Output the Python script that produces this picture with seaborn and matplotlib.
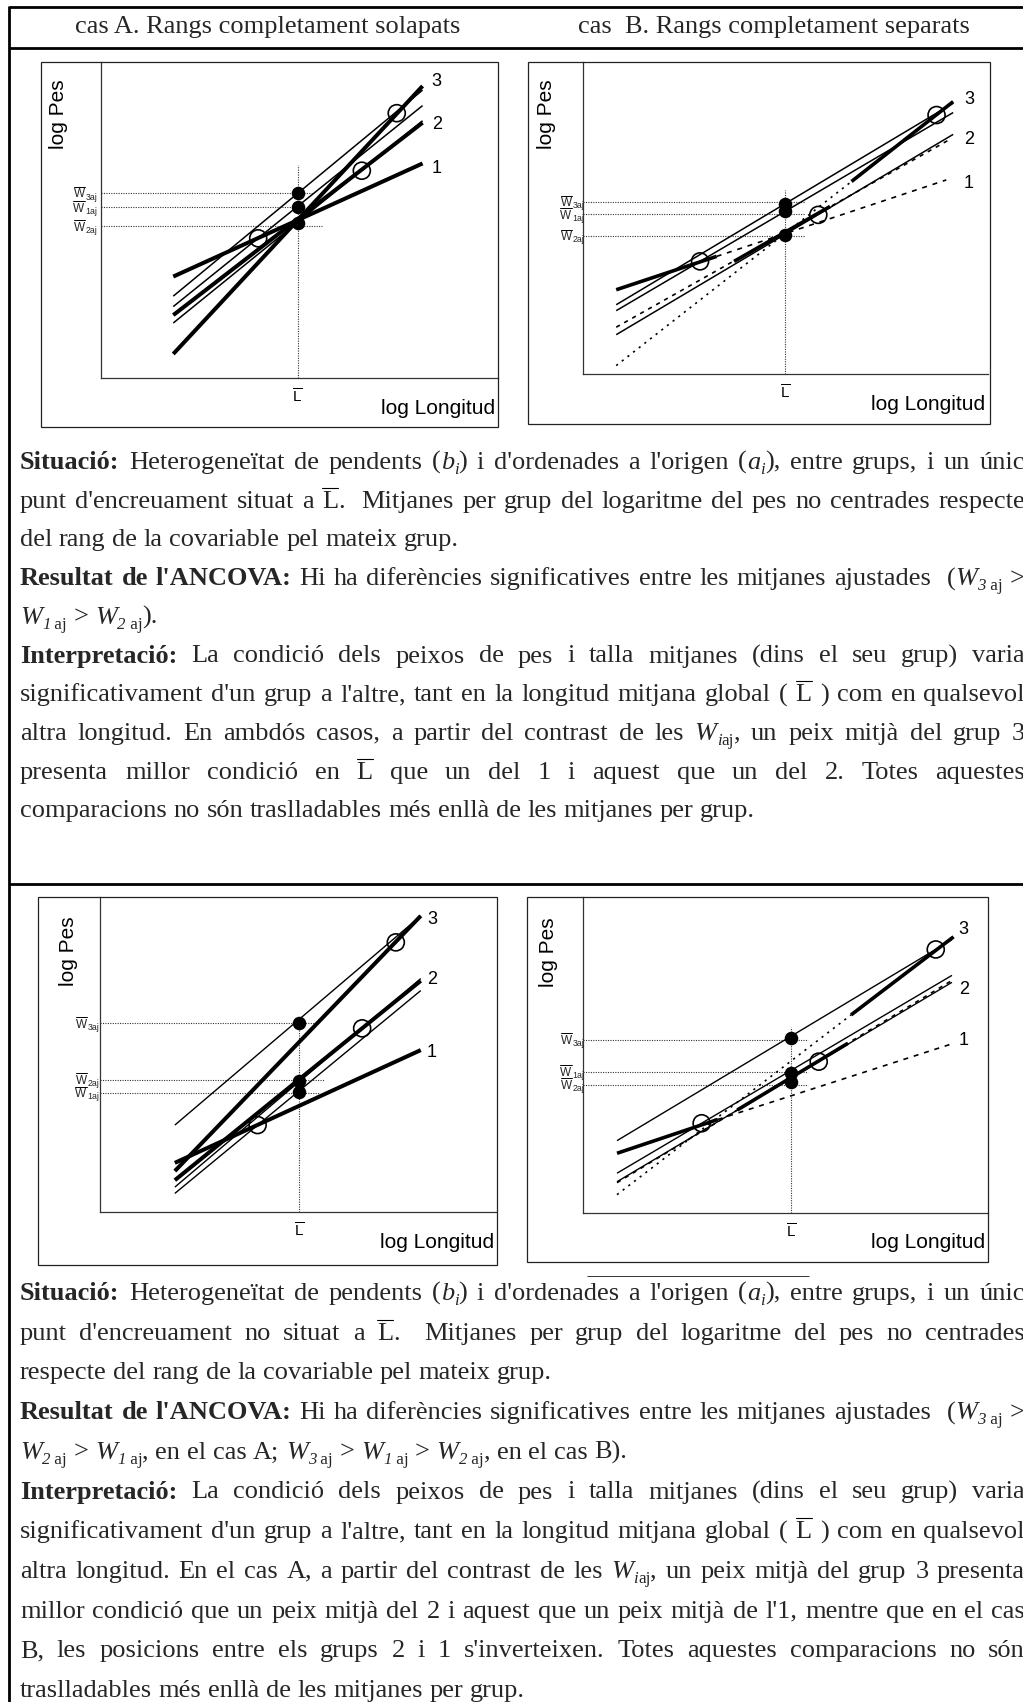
import matplotlib
matplotlib.use('Agg')
import matplotlib.pyplot as plt
import matplotlib.transforms as mtransforms
from matplotlib.lines import Line2D
from matplotlib.patches import Rectangle
import seaborn as sns
import pandas as pd

# ======================= DATA (x = log Longitud, y = log Pes, arbitrary units 0-100) =======================
# --- Panel I-A : rangs solapats, encreuament a L
p1a_L = 49.5
p1a_L_top = 67.4
p1a_fit_x0 = [18.2, 18.2, 18.2]
p1a_fit_x1 = [81.0, 81.0, 81.0]
p1a_fit_y0 = [32.1, 19.9, 7.6]
p1a_fit_y1 = [67.9, 80.8, 92.4]
p1a_com_x0 = [18.2, 18.2, 18.2]
p1a_com_x1 = [81.0, 81.0, 81.0]
p1a_com_y0 = [22.6, 17.4, 25.9]
p1a_com_y1 = [86.2, 81.4, 91.1]
p1a_ext_x0, p1a_ext_x1, p1a_ext_y0, p1a_ext_y1 = [], [], [], []
p1a_mean_x = [39.6, 65.7, 74.5]
p1a_mean_y = [44.2, 65.6, 83.8]
p1a_adj = [54.2, 49.0, 58.4]
p1a_adj_line = [54.0, 48.0, 58.5]
p1a_adj_end = [50.5, 55.6, 53.1]
p1a_num_x = [84.5, 84.7, 84.5]
p1a_num_y = [66.4, 80.1, 93.8]

# --- Panel I-B : rangs separats, encreuament a L
p1b_L = 49.9
p1b_L_top = 59.0
p1b_fit_x0 = [8.2, 37.3, 66.3]
p1b_fit_x1 = [33.0, 61.0, 91.4]
p1b_fit_y0 = [27.0, 36.1, 61.7]
p1b_fit_y1 = [37.7, 53.7, 87.3]
p1b_com_x0 = [8.2, 8.2, 8.2]
p1b_com_x1 = [91.4, 91.4, 91.4]
p1b_com_y0 = [20.3, 12.6, 22.2]
p1b_com_y1 = [83.8, 76.8, 86.8]
p1b_ext_x0 = [33.0, 8.2, 8.2]
p1b_ext_x1 = [89.7, 91.0, 66.3]
p1b_ext_y0 = [37.7, 15.0, 2.7]
p1b_ext_y1 = [62.2, 75.5, 61.7]
p1b_mean_x = [28.9, 58.1, 87.3]
p1b_mean_y = [36.1, 51.0, 83.0]
p1b_adj = [52.1, 44.6, 54.4]
p1b_adj_line = [51.2, 44.3, 55.2]
p1b_adj_end = [54.8, 54.8, 54.8]
p1b_num_x = [95.3, 95.4, 95.3]
p1b_num_y = [61.2, 75.2, 88.1]

# --- Panel II-A : rangs solapats, encreuament no situat a L
p2a_L = 50.2
p2a_L_top = 60.5
p2a_fit_x0 = [18.9, 18.9, 18.9]
p2a_fit_x1 = [81.0, 81.0, 81.0]
p2a_fit_y0 = [15.6, 10.1, 13.0]
p2a_fit_y1 = [51.4, 73.4, 94.0]
p2a_com_x0 = [18.9, 18.9, 18.9]
p2a_com_x1 = [81.0, 81.0, 81.0]
p2a_com_y0 = [5.9, 7.9, 27.6]
p2a_com_y1 = [70.3, 74.1, 94.0]
p2a_ext_x0, p2a_ext_x1, p2a_ext_y0, p2a_ext_y1 = [], [], [], []
p2a_mean_x = [39.8, 66.2, 74.7]
p2a_mean_y = [27.6, 58.3, 85.6]
p2a_adj = [38.0, 41.7, 59.9]
p2a_adj_line = [37.8, 42.0, 59.9]
p2a_adj_end = [55.5, 56.6, 55.5]
p2a_num_x = [83.8, 83.8, 83.8]
p2a_num_y = [50.6, 73.9, 92.9]

# --- Panel II-B : rangs separats, encreuament no situat a L
p2b_L = 51.3
p2b_L_top = 59.0
p2b_fit_x0 = [8.4, 38.1, 66.2]
p2b_fit_x1 = [33.3, 65.4, 91.5]
p2b_fit_y0 = [18.9, 32.6, 62.7]
p2b_fit_y1 = [29.6, 53.7, 87.4]
p2b_com_x0 = [8.4, 8.4, 8.4]
p2b_com_x1 = [91.1, 91.1, 91.1]
p2b_com_y0 = [12.6, 9.9, 22.9]
p2b_com_y1 = [75.2, 73.0, 86.5]
p2b_ext_x0 = [33.3, 8.4, 8.4]
p2b_ext_x1 = [91.5, 91.1, 66.2]
p2b_ext_y0 = [29.6, 9.6, 5.8]
p2b_ext_y1 = [53.7, 73.6, 62.7]
p2b_mean_x = [29.3, 58.2, 87.1]
p2b_mean_y = [28.4, 47.9, 83.4]
p2b_adj = [44.4, 41.6, 55.3]
p2b_adj_line = [44.7, 40.6, 54.9]
p2b_adj_end = [55.5, 55.5, 55.5]
p2b_num_x = [94.0, 94.0, 94.0]
p2b_num_y = [54.7, 70.8, 89.8]

group_names = ['1', '2', '3']
adj_subs = ['1aj', '2aj', '3aj']
header_a = 'cas A. Rangs completament solapats'
header_b = 'cas  B. Rangs completament separats'
xlabel_text = 'log Longitud'
ylabel_text = 'log Pes'

# ======================= FIGURE SETUP =======================
W_PX, H_PX = 1023, 1702
sns.set_theme(style='white')
plt.rcParams['font.family'] = ['Liberation Sans', 'DejaVu Sans']
plt.rcParams['mathtext.fontset'] = 'custom'
plt.rcParams['mathtext.rm'] = 'Liberation Sans'
plt.rcParams['mathtext.it'] = 'Liberation Sans:italic'
plt.rcParams['mathtext.bf'] = 'Liberation Sans:bold'

fig = plt.figure(figsize=(W_PX / 100, H_PX / 100), dpi=100)
fig.patch.set_facecolor('white')
renderer = fig.canvas.get_renderer()


def fxy(x, y):
    return x / W_PX, 1 - y / H_PX


def fig_line(x0, y0, x1, y1, lw, color='black', ls='-'):
    a = fxy(x0, y0)
    b = fxy(x1, y1)
    fig.add_artist(Line2D([a[0], b[0]], [a[1], b[1]], transform=fig.transFigure,
                          color=color, lw=lw, ls=ls, solid_capstyle='butt'))


def fig_rect(l, t, r, b, lw=0.9, color='#222222'):
    x0, y1 = fxy(l, t)
    x1, y0 = fxy(r, b)
    fig.add_artist(Rectangle((x0, y0), x1 - x0, y1 - y0, transform=fig.transFigure,
                             fill=False, lw=lw, edgecolor=color))


def text_width(s, **kw):
    t = fig.text(0, 0, s, **kw)
    w = t.get_window_extent(renderer).width
    t.remove()
    return w


# page frame
fig_line(9, 7, 1023, 7, 2.0)
fig_line(9, 6, 9, 1702, 2.0)
fig_line(9, 48, 1023, 48, 2.0)
fig_line(9, 884, 1023, 884, 2.0)
fig_line(587, 1276, 809, 1276, 0.7, color='#333333')

# ======================= PANELS =======================
panels = [
    dict(ax=(101, 62, 498, 378), box=(41, 62, 498, 427), ylab=(58, 114), xlab_r=495, wlab_x=97,
         L=p1a_L, L_top=p1a_L_top, fit=(p1a_fit_x0, p1a_fit_x1, p1a_fit_y0, p1a_fit_y1),
         com=(p1a_com_x0, p1a_com_x1, p1a_com_y0, p1a_com_y1),
         ext=(p1a_ext_x0, p1a_ext_x1, p1a_ext_y0, p1a_ext_y1),
         mean=(p1a_mean_x, p1a_mean_y), adj=p1a_adj, adj_line=p1a_adj_line, adj_end=p1a_adj_end,
         num=(p1a_num_x, p1a_num_y), thick=2.9, thin=1.1),
    dict(ax=(583, 62, 988, 374), box=(528, 62, 990, 424), ylab=(547, 114), xlab_r=985, wlab_x=584,
         L=p1b_L, L_top=p1b_L_top, fit=(p1b_fit_x0, p1b_fit_x1, p1b_fit_y0, p1b_fit_y1),
         com=(p1b_com_x0, p1b_com_x1, p1b_com_y0, p1b_com_y1),
         ext=(p1b_ext_x0, p1b_ext_x1, p1b_ext_y0, p1b_ext_y1),
         mean=(p1b_mean_x, p1b_mean_y), adj=p1b_adj, adj_line=p1b_adj_line, adj_end=p1b_adj_end,
         num=(p1b_num_x, p1b_num_y), thick=2.6, thin=1.1),
    dict(ax=(100, 897, 496, 1212), box=(38, 897, 497, 1265), ylab=(69, 951), xlab_r=494, wlab_x=99,
         L=p2a_L, L_top=p2a_L_top, fit=(p2a_fit_x0, p2a_fit_x1, p2a_fit_y0, p2a_fit_y1),
         com=(p2a_com_x0, p2a_com_x1, p2a_com_y0, p2a_com_y1),
         ext=(p2a_ext_x0, p2a_ext_x1, p2a_ext_y0, p2a_ext_y1),
         mean=(p2a_mean_x, p2a_mean_y), adj=p2a_adj, adj_line=p2a_adj_line, adj_end=p2a_adj_end,
         num=(p2a_num_x, p2a_num_y), thick=2.9, thin=1.0),
    dict(ax=(583, 897, 988, 1213), box=(527, 897, 988, 1262), ylab=(549, 952), xlab_r=985, wlab_x=584,
         L=p2b_L, L_top=p2b_L_top, fit=(p2b_fit_x0, p2b_fit_x1, p2b_fit_y0, p2b_fit_y1),
         com=(p2b_com_x0, p2b_com_x1, p2b_com_y0, p2b_com_y1),
         ext=(p2b_ext_x0, p2b_ext_x1, p2b_ext_y0, p2b_ext_y1),
         mean=(p2b_mean_x, p2b_mean_y), adj=p2b_adj, adj_line=p2b_adj_line, adj_end=p2b_adj_end,
         num=(p2b_num_x, p2b_num_y), thick=2.6, thin=1.0),
]

ext_styles = [(0, (3.0, 3.5)), (0, (2.5, 3.0)), (0, (1.3, 3.0))]
ref_style = (0, (1.0, 1.2))
W_PT = 8.5
SUB_PT = 6.3
W_EM = W_PT * 100 / 72.0
W_WIDTH = text_width('W', fontsize=W_PT, family='Liberation Sans')


def seg(ax, xs, ys, lw, ls='-', z=3, color='black'):
    df = pd.DataFrame({'x': xs, 'y': ys})
    sns.lineplot(data=df, x='x', y='y', ax=ax, color=color, lw=lw, estimator=None,
                 sort=False, legend=False)
    ln = ax.lines[-1]
    ln.set_linestyle(ls)
    ln.set_zorder(z)
    ln.set_solid_capstyle('butt')
    ln.set_dash_capstyle('butt')


for p in panels:
    l, t, r, b = p['ax']
    ax = fig.add_axes([l / W_PX, 1 - b / H_PX, (r - l) / W_PX, (b - t) / H_PX])
    ax.set_xlim(0, 100)
    ax.set_ylim(0, 100)
    ax.patch.set_alpha(0)
    for s in ['top', 'right']:
        ax.spines[s].set_visible(False)
    for s in ['left', 'bottom']:
        ax.spines[s].set_color('#333333')
        ax.spines[s].set_linewidth(0.9)
    fig_rect(*p['box'])
    hpx = b - t
    wpx = r - l

    # reference dotted lines
    L = p['L']
    seg(ax, [L, L], [0, p['L_top']], 0.8, ref_style, z=2, color='#333333')
    for yv, xe in zip(p['adj_line'], p['adj_end']):
        seg(ax, [0, xe], [yv, yv], 0.8, ref_style, z=2, color='#333333')

    # extensions (dashed) of group fits
    ex0, ex1, ey0, ey1 = p['ext']
    for i in range(len(ex0)):
        seg(ax, [ex0[i], ex1[i]], [ey0[i], ey1[i]], 1.2, ext_styles[i], z=3)
    # common-slope lines (thin)
    cx0, cx1, cy0, cy1 = p['com']
    for i in range(len(cx0)):
        seg(ax, [cx0[i], cx1[i]], [cy0[i], cy1[i]], p['thin'], '-', z=4)
    # group fits (thick)
    fx0, fx1, fy0, fy1 = p['fit']
    for i in range(len(fx0)):
        seg(ax, [fx0[i], fx1[i]], [fy0[i], fy1[i]], p['thick'], '-', z=5)

    # group means (open circles)
    mx, my = p['mean']
    sns.scatterplot(x=mx, y=my, ax=ax, s=150, marker='o', legend=False)
    coll = ax.collections[-1]
    coll.set_facecolor('none')
    coll.set_edgecolor('black')
    coll.set_linewidth(1.2)
    coll.set_zorder(7)
    # adjusted means (filled dots)
    sns.scatterplot(x=[L] * len(p['adj']), y=p['adj'], ax=ax, s=95, marker='o', legend=False)
    coll = ax.collections[-1]
    coll.set_facecolor('black')
    coll.set_edgecolor('black')
    coll.set_linewidth(0)
    coll.set_zorder(8)

    ax.set_xticks([])
    ax.set_yticks([])
    ax.set_xlabel('')
    ax.set_ylabel('')

    # group numbers
    nx, ny = p['num']
    for gname, xv, yv in zip(group_names, nx, ny):
        ax.text(xv, yv, gname, ha='center', va='center', fontsize=13, color='black')

    # adjusted-mean labels "W-bar sub" at the left of the y axis
    for sub, yv in zip(adj_subs, p['adj_line']):
        ydisp = ax.transData.transform((0, yv))[1]          # pixels from the bottom
        base = ydisp - 0.36 * W_EM
        sub_w = text_width(sub, fontsize=SUB_PT, family='Liberation Sans')
        x_sub = p['wlab_x'] - sub_w
        x_w = x_sub - W_WIDTH - 0.6
        fig.text(x_w / W_PX, base / H_PX, 'W', fontsize=W_PT, family='Liberation Sans',
                 ha='left', va='baseline')
        fig.text(x_sub / W_PX, (base - 2.2) / H_PX, sub, fontsize=SUB_PT, family='Liberation Sans',
                 ha='left', va='baseline')
        ybar = base + 0.72 * W_EM + 2.0
        fig.add_artist(Line2D([x_w / W_PX, (x_w + W_WIDTH) / W_PX], [ybar / H_PX, ybar / H_PX],
                              transform=fig.transFigure, color='black', lw=0.7))

    # L bar label
    trans_x = mtransforms.blended_transform_factory(ax.transData, ax.transAxes)
    ax.text(L, -19 / hpx, r'$\overline{\mathrm{L}}$', transform=trans_x, ha='center', va='center',
            fontsize=11, color='black')
    # axis titles
    ax.text((p['xlab_r'] - l) / wpx, -30 / hpx, xlabel_text, transform=ax.transAxes,
            ha='right', va='center', fontsize=15, color='black')
    ax.text((p['ylab'][0] - l) / wpx, (b - p['ylab'][1]) / hpx, ylabel_text, transform=ax.transAxes,
            rotation=90, ha='center', va='center', fontsize=15, color='black')

# ======================= TEXT =======================
SERIF = 'Liberation Serif'
BODY_PT = 19.0
EM_PX = BODY_PT * 100 / 72.0

fig.text(*fxy(268, 33), header_a, family=SERIF, fontsize=BODY_PT, ha='center', va='baseline')
fig.text(*fxy(774, 33), header_b, family=SERIF, fontsize=BODY_PT, ha='center', va='baseline')


def style_props(st):
    size = BODY_PT
    weight = 'normal'
    fstyle = 'normal'
    dy = 0.0
    if st == 'b':
        weight = 'bold'
    if st in ('i', 'si'):
        fstyle = 'italic'
    if st in ('si', 's'):
        size = BODY_PT * 0.64
        dy = 0.2 * EM_PX
    return dict(family=SERIF, fontsize=size, fontweight=weight, fontstyle=fstyle), dy


def measure(s, st):
    props, _ = style_props(st)
    return text_width(s, **props)


SPACE_PX = measure('x x', 'n') - measure('xx', 'n')


def split_words(runs):
    words = [[]]
    for text, st in runs:
        parts = text.split(' ')
        for i, part in enumerate(parts):
            if i > 0:
                words.append([])
            if part:
                words[-1].append((part, st))
    if words and not words[0]:
        words = words[1:]
    return words


def draw_line(runs, y_base, justify, x0=20.0, x1=1025.0):
    words = split_words(runs)
    widths = [[measure(s, st) for s, st in w] for w in words]
    total = sum(sum(ws) for ws in widths)
    if justify and len(words) > 1:
        gap = (x1 - x0 - total) / (len(words) - 1)
    else:
        gap = SPACE_PX
    x = x0
    for word, ws in zip(words, widths):
        for (s, st), w in zip(word, ws):
            props, dy = style_props(st)
            t = fig.text(*fxy(x, y_base + dy), s, ha='left', va='baseline', **props)
            if st == 'o':
                bb = t.get_window_extent(renderer)
                ytop = bb.y1 + 3
                fig.add_artist(Line2D([bb.x0 / W_PX, bb.x1 / W_PX], [ytop / H_PX, ytop / H_PX],
                                      transform=fig.transFigure, color='black', lw=0.8))
            x += w
        x += gap


NB = '\u00a0'
situacio = [('Situació:', 'b'), (' Heterogeneïtat de pendents (', 'n'), ('b', 'i'), ('i', 'si'),
            (") i d'ordenades a l'origen (", 'n'), ('a', 'i'), ('i', 'si'), ('), entre grups, i un únic', 'n')]
resultat = [("Resultat de l'ANCOVA:", 'b'),
            (' Hi ha diferències significatives entre les mitjanes ajustades  (', 'n'),
            ('W', 'i'), ('3', 'si'), (NB + 'aj', 's'), (' >', 'n')]
interp = [('Interpretació:', 'b'), (' La condició dels peixos de pes i talla mitjanes (dins el seu grup) varia', 'n')]
signif = [("significativament d'un grup a l'altre, tant en la longitud mitjana global ( ", 'n'), ('L', 'o'),
          (' ) com en qualsevol', 'n')]

section1 = [
    (situacio, True),
    ([("punt d'encreuament situat a ", 'n'), ('L', 'o'),
      ('.  Mitjanes per grup del logaritme del pes no centrades respecte', 'n')], True),
    ([('del rang de la covariable pel mateix grup.', 'n')], False),
    (resultat, True),
    ([('W', 'i'), ('1', 'si'), (NB + 'aj', 's'), (' > ', 'n'), ('W', 'i'), ('2', 'si'), (NB + 'aj', 's'),
      (').', 'n')], False),
    (interp, True),
    (signif, True),
    ([('altra longitud. En ambdós casos, a partir del contrast de les ', 'n'), ('W', 'i'), ('i', 'si'),
      ('aj', 's'), (', un peix mitjà del grup 3', 'n')], True),
    ([('presenta millor condició en ', 'n'), ('L', 'o'),
      (' que un del 1 i aquest que un del 2. Totes aquestes', 'n')], True),
    ([('comparacions no són traslladables més enllà de les mitjanes per grup.', 'n')], False),
]

section2 = [
    (situacio, True),
    ([("punt d'encreuament no situat a ", 'n'), ('L', 'o'),
      ('.  Mitjanes per grup del logaritme del pes no centrades', 'n')], True),
    ([('respecte del rang de la covariable pel mateix grup.', 'n')], False),
    (resultat, True),
    ([('W', 'i'), ('2', 'si'), (NB + 'aj', 's'), (' > ', 'n'), ('W', 'i'), ('1', 'si'), (NB + 'aj', 's'),
      (', en el cas A; ', 'n'), ('W', 'i'), ('3', 'si'), (NB + 'aj', 's'), (' > ', 'n'),
      ('W', 'i'), ('1', 'si'), (NB + 'aj', 's'), (' > ', 'n'), ('W', 'i'), ('2', 'si'), (NB + 'aj', 's'),
      (', en el cas B).', 'n')], False),
    (interp, True),
    (signif, True),
    ([('altra longitud. En el cas A, a partir del contrast de les ', 'n'), ('W', 'i'), ('i', 'si'),
      ('aj', 's'), (', un peix mitjà del grup 3 presenta', 'n')], True),
    ([("millor condició que un peix mitjà del 2 i aquest que un peix mitjà de l'1, mentre que en el cas", 'n')], True),
    ([("B, les posicions entre els grups 2 i 1 s'inverteixen. Totes aquestes comparacions no són", 'n')], True),
    ([('traslladables més enllà de les mitjanes per grup.', 'n')], False),
]

for k, (runs, just) in enumerate(section1):
    draw_line(runs, 469 + 38.7 * k, just)
for k, (runs, just) in enumerate(section2):
    draw_line(runs, 1300 + 39.7 * k, just)

fig.savefig('out.png', dpi=100, facecolor='white')
